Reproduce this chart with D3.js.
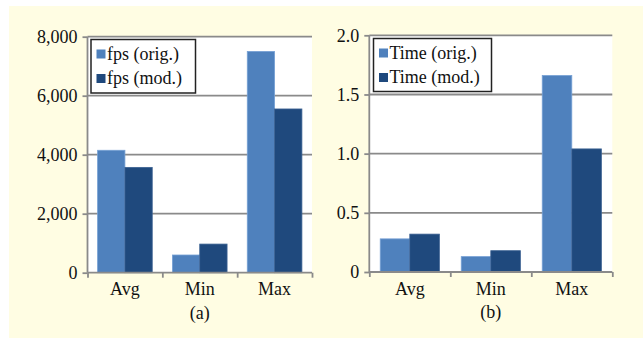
<!DOCTYPE html>
<html><head><meta charset="utf-8">
<script src="https://cdn.jsdelivr.net/npm/d3@7"></script>
<style>
html,body{margin:0;padding:0;background:#fff;}
svg{display:block;}
</style></head>
<body>
<svg id="c" width="643" height="338"></svg>
<script>
const categories = ["Avg", "Min", "Max"];
const fpsOrig = [4150, 600, 7500];
const fpsMod = [3570, 970, 5550];
const timeOrig = [0.28, 0.13, 1.66];
const timeMod = [0.32, 0.18, 1.04];
const fpsTicks = [0, 2000, 4000, 6000, 8000];
const timeTicks = [0, 0.5, 1.0, 1.5, 2.0];
const seriesNamesA = ["fps (orig.)", "fps (mod.)"];
const seriesNamesB = ["Time (orig.)", "Time (mod.)"];
const captions = ["(a)", "(b)"];

const colors = ["#4f81bd", "#1f497d"];
const strokes = ["#76a0d4", "#3b6192"];
const FONT = "'Liberation Serif','Times New Roman',serif";

const svg = d3.select("#c");
svg.append("rect").attr("x", 9).attr("y", 6).attr("width", 634).attr("height", 332).attr("fill", "#fffde3");

function drawChart(cfg) {
  const {x0, x1, yTop, yBot, values, ticks, fmt, names, caption, legend} = cfg;
  const g = svg.append("g");
  const y = d3.scaleLinear().domain([ticks[0], ticks[ticks.length - 1]]).range([yBot, yTop]);
  const xb = d3.scaleBand().domain(categories).range([x0, x1]).paddingInner(0).paddingOuter(0);
  const xs = d3.scaleBand().domain([0, 1]).range([0, xb.bandwidth()]).paddingOuter(0.37).paddingInner(0);

  g.append("rect").attr("x", x0).attr("y", yTop).attr("width", x1 - x0).attr("height", yBot - yTop).attr("fill", "#fff");

  // gridlines
  g.append("g").selectAll("line").data(ticks.slice(1)).join("line")
    .attr("x1", x0).attr("x2", x1).attr("y1", d => y(d)).attr("y2", d => y(d))
    .attr("stroke", "#8a8a8a").attr("stroke-width", 1.8);

  // bars
  values.forEach((vals, si) => {
    g.append("g").selectAll("rect").data(vals).join("rect")
      .attr("x", (d, i) => xb(categories[i]) + xs(si))
      .attr("y", d => y(d))
      .attr("width", xs.bandwidth())
      .attr("height", d => yBot - y(d))
      .attr("fill", colors[si])
      .attr("stroke", strokes[si]).attr("stroke-width", 0.8);
  });

  // y axis
  const ya = g.append("g").attr("transform", `translate(${x0},0)`)
    .call(d3.axisLeft(y).tickValues(ticks).tickFormat(fmt).tickSize(5).tickPadding(5));
  ya.select(".domain").attr("stroke", "#8a8a8a").attr("stroke-width", 1.8).attr("d", `M0,${yBot}V${yTop}`);
  ya.selectAll(".tick line").attr("stroke", "#8a8a8a").attr("stroke-width", 1.8);
  ya.selectAll("text").attr("font-family", FONT).attr("font-size", 18).attr("fill", "#111");

  // x axis (labels)
  const xa = g.append("g").attr("transform", `translate(0,${yBot})`)
    .call(d3.axisBottom(xb).tickSize(0).tickPadding(0));
  xa.select(".domain").remove();
  xa.selectAll("text").attr("font-family", FONT).attr("font-size", 18).attr("fill", "#111").attr("dy", "1.25em");
  // x axis ticks at band boundaries
  const xt = d3.scaleLinear().domain([0, categories.length]).range([x0, x1]);
  const xa2 = g.append("g").attr("transform", `translate(0,${yBot})`)
    .call(d3.axisBottom(xt).ticks(categories.length).tickFormat("").tickSize(5));
  xa2.select(".domain").attr("stroke", "#8a8a8a").attr("stroke-width", 1.8).attr("d", `M${x0},0H${x1}`);
  xa2.selectAll(".tick line").attr("stroke", "#8a8a8a").attr("stroke-width", 1.8);

  // caption
  g.append("text").attr("x", (x0 + x1) / 2).attr("y", yBot + 46).attr("text-anchor", "middle")
    .attr("font-family", FONT).attr("font-size", 18).attr("fill", "#111").text(caption);

  // legend
  const lg = g.append("g");
  lg.append("rect").attr("x", legend.x).attr("y", legend.y).attr("width", legend.w).attr("height", legend.h)
    .attr("fill", "#fff").attr("stroke", "#222").attr("stroke-width", 1.5);
  names.forEach((n, i) => {
    const cy = legend.y + 14.5 + i * 24.5;
    lg.append("rect").attr("x", legend.x + 5.5).attr("y", cy - 4.5).attr("width", 9).attr("height", 9).attr("fill", colors[i]);
    lg.append("text").attr("x", legend.x + 16).attr("y", cy + 5.5).attr("font-family", FONT).attr("font-size", 18)
      .attr("fill", "#111").text(n);
  });
}

drawChart({x0: 87.5, x1: 312, yTop: 36.7, yBot: 272.7, values: [fpsOrig, fpsMod], ticks: fpsTicks,
  fmt: d3.format(","), names: seriesNamesA, caption: captions[0], legend: {x: 91, y: 39.5, w: 104.5, h: 53.5}});
drawChart({x0: 369.3, x1: 612.3, yTop: 35.3, yBot: 272, values: [timeOrig, timeMod], ticks: timeTicks,
  fmt: d => d === 0 ? "0" : d3.format(".1f")(d), names: seriesNamesB, caption: captions[1], legend: {x: 373.5, y: 38.5, w: 118, h: 53}});
</script>
</body></html>
